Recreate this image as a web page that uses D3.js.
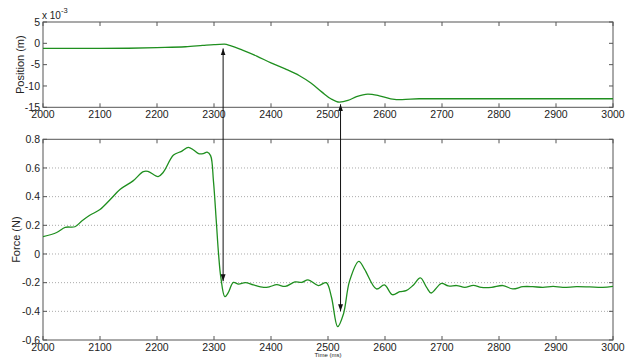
<!DOCTYPE html>
<html><head><meta charset="utf-8">
<script src="https://cdn.jsdelivr.net/npm/d3@7/dist/d3.min.js"></script>
<style>
body{margin:0;background:#fff;}
text{font-family:"Liberation Sans",Arial,sans-serif;fill:#222;}
</style></head>
<body><svg id="c" width="625" height="361"></svg>
<script>
// Time axis ticks
const timeTicks = [2000,2100,2200,2300,2400,2500,2600,2700,2800,2900,3000];
const posTicks = [5,0,-5,-10,-15];
const forceTicks = [0.8,0.6,0.4,0.2,0,-0.2,-0.4,-0.6];
const forceGrid = [0.6,0.4,0.2,0,-0.2,-0.4];

// Position (x 10^-3 m)
const posTime = [2000,2100,2150,2200,2250,2280,2300,2318,2330,2350,2375,2400,2425,2450,2470,2490,2505,2520,2535,2550,2570,2590,2610,2630,2660,2700,2800,2900,3000];
const posVal  = [-1.2,-1.2,-1.15,-1.0,-0.8,-0.5,-0.3,-0.2,-0.6,-1.6,-3.0,-4.6,-6.0,-7.6,-9.3,-11.5,-13.0,-13.8,-13.4,-12.5,-11.9,-12.3,-13.0,-13.2,-13.0,-13.0,-13.0,-13.0,-13.0];

// Force (N)
const forceTime = [2000,2024,2039,2056,2068,2082,2100,2118,2135,2158,2176,2184,2202,2211,2229,2243,2255,2264,2273,2281,2288,2294,2299,2304,2308,2312,2319,2325,2334,2343,2355,2369,2387,2398,2410,2425,2442,2454,2465,2483,2497,2506,2517,2527,2538,2554,2564,2585,2599,2613,2626,2637,2649,2662,2673,2681,2699,2711,2726,2740,2755,2769,2787,2807,2824,2842,2859,2877,2895,2912,2936,2959,2982,3000];
const forceVal  = [0.121,0.15,0.186,0.19,0.23,0.27,0.31,0.38,0.45,0.51,0.575,0.577,0.54,0.57,0.69,0.716,0.744,0.725,0.70,0.70,0.71,0.686,0.51,0.23,0.0,-0.163,-0.298,-0.27,-0.198,-0.21,-0.2,-0.216,-0.233,-0.228,-0.214,-0.226,-0.195,-0.198,-0.18,-0.22,-0.2,-0.30,-0.507,-0.42,-0.186,-0.051,-0.105,-0.244,-0.216,-0.284,-0.263,-0.256,-0.22,-0.167,-0.233,-0.272,-0.205,-0.223,-0.22,-0.233,-0.219,-0.233,-0.233,-0.22,-0.244,-0.228,-0.228,-0.233,-0.226,-0.233,-0.228,-0.23,-0.233,-0.226];

// Arrows: [time, position value (x1e-3), force value]
const arrowTime = [2316, 2522];
const arrowPos  = [-1.2, -14.3];
const arrowForce= [-0.19, -0.40];

const svg = d3.select("#c");
const axisCol = "#555", lineCol = "#1f8f1f";
const L = 43, R = 613;
const x = d3.scaleLinear().domain([2000,3000]).range([L,R]);
const yP = d3.scaleLinear().domain([-15,5]).range([107.3,22]);
const yF = d3.scaleLinear().domain([-0.6,0.8]).range([340,139.3]);

svg.append("defs").append("marker").attr("id","ah").attr("viewBox","0 0 10 10")
  .attr("refX",10).attr("refY",5).attr("markerWidth",7).attr("markerHeight",7)
  .attr("orient","auto-start-reverse").append("path").attr("d","M0,1.5L10,5L0,8.5Z").attr("fill","#111");

function frame(y, yTicks, fmt, grid){
  const g = svg.append("g");
  const [b,t] = y.range();
  if(grid){
    g.selectAll(".gr").data(grid).enter().append("line")
      .attr("x1",L).attr("x2",R).attr("y1",d=>y(d)).attr("y2",d=>y(d))
      .attr("stroke","#aaa").attr("stroke-width",1).attr("stroke-dasharray","1,2");
  }
  // box
  g.append("rect").attr("x",L).attr("y",t).attr("width",R-L).attr("height",b-t)
    .attr("fill","none").attr("stroke",axisCol).attr("stroke-width",1);
  // x ticks (inward, top and bottom)
  timeTicks.forEach(v=>{
    g.append("line").attr("x1",x(v)).attr("x2",x(v)).attr("y1",b).attr("y2",b-4).attr("stroke",axisCol);
    g.append("line").attr("x1",x(v)).attr("x2",x(v)).attr("y1",t).attr("y2",t+4).attr("stroke",axisCol);
    g.append("text").attr("x",x(v)).attr("y",b+11).attr("text-anchor","middle").attr("font-size","10.5px").text(v);
  });
  yTicks.forEach(v=>{
    g.append("line").attr("x1",L).attr("x2",L+4).attr("y1",y(v)).attr("y2",y(v)).attr("stroke",axisCol);
    g.append("line").attr("x1",R).attr("x2",R-4).attr("y1",y(v)).attr("y2",y(v)).attr("stroke",axisCol);
    g.append("text").attr("x",L-3).attr("y",y(v)+3.7).attr("text-anchor","end").attr("font-size","10.5px").text(fmt(v));
  });
  return g;
}

frame(yP, posTicks, d=>String(d).replace("-","-"), null);
frame(yF, forceTicks, d=>d===0?"0":d.toFixed(1), forceGrid);

const clipTop = svg.append("clipPath").attr("id","cp1").append("rect").attr("x",L).attr("y",22).attr("width",R-L).attr("height",85.3);
const clipBot = svg.append("clipPath").attr("id","cp2").append("rect").attr("x",L).attr("y",139.3).attr("width",R-L).attr("height",200.7);

const lp = d3.line().x(i=>x(posTime[i])).y(i=>yP(posVal[i])).curve(d3.curveMonotoneX);
svg.append("path").attr("d",lp(d3.range(posTime.length))).attr("fill","none")
  .attr("stroke",lineCol).attr("stroke-width",1.3).attr("clip-path","url(#cp1)");

const lf = d3.line().x(i=>x(forceTime[i])).y(i=>yF(forceVal[i])).curve(d3.curveCatmullRom.alpha(0.5));
svg.append("path").attr("d",lf(d3.range(forceTime.length))).attr("fill","none")
  .attr("stroke",lineCol).attr("stroke-width",1.3).attr("clip-path","url(#cp2)");

// double-headed arrows
arrowTime.forEach((tm,i)=>{
  svg.append("line").attr("x1",x(tm)).attr("x2",x(tm))
    .attr("y1",yP(arrowPos[i])).attr("y2",yF(arrowForce[i]))
    .attr("stroke","#111").attr("stroke-width",1)
    .attr("marker-start","url(#ah)").attr("marker-end","url(#ah)");
});

// labels
svg.append("text").attr("transform",`translate(24,${(22+107.3)/2}) rotate(-90)`)
  .attr("text-anchor","middle").attr("font-size","11px").text("Position (m)");
svg.append("text").attr("transform",`translate(20,${(139.3+340)/2}) rotate(-90)`)
  .attr("text-anchor","middle").attr("font-size","11px").text("Force (N)");
const ex = svg.append("text").attr("x",42).attr("y",19).attr("font-size","10px");
ex.append("tspan").text("x 10");
ex.append("tspan").attr("dy",-6).attr("font-size","7.5px").text("-3");
svg.append("text").attr("x",(L+R)/2).attr("y",357).attr("text-anchor","middle")
  .attr("font-size","6px").text("Time (ms)");
</script></body></html>
